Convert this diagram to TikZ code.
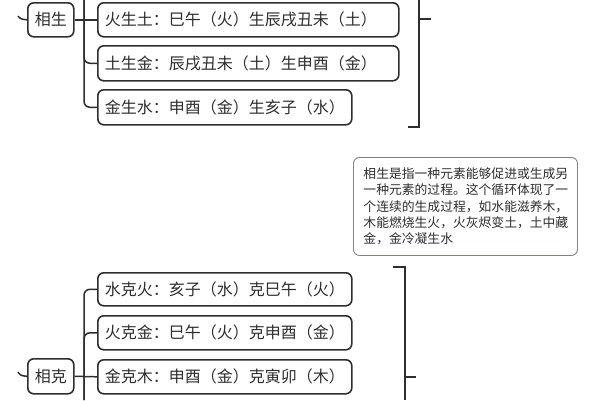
\documentclass[tikz,border=0pt]{standalone}
\usepackage{fontspec}
\newfontfamily\cjk{Noto Sans CJK SC}
\definecolor{ink}{HTML}{2E2E2E}
\definecolor{notebd}{HTML}{8A8078}
\begin{document}
\begin{tikzpicture}[x=1pt,y=-1pt,
  topic/.style={draw=ink,line width=1.6pt,rounded corners=6pt,fill=white,
    anchor=north west,inner sep=0pt,text=ink,font=\cjk\fontsize{16}{18}\selectfont,
    minimum height=34pt},
  conn/.style={draw=ink,line width=1.5pt,rounded corners=6pt},
  note/.style={draw=notebd,line width=0.9pt,rounded corners=6pt,anchor=north west,
    inner sep=0pt,text=ink,align=left,font=\cjk\fontsize{12.8}{16.2}\selectfont,
    minimum width=224pt,minimum height=98pt,text width=224pt}]
\useasboundingbox (0,0) rectangle (600,400);
\fill[white] (0,0) rectangle (600,400);

% upper group
\node[topic,minimum width=46pt] (xs) at (27,2) {\hfill 相生\hfill\null};
\node[topic,minimum width=301pt,text width=301pt,align=left] (b1) at (97,2) {\hspace{7pt}火生土：巳午（火）生辰戌丑未（土）};
\node[topic,minimum width=301pt,text width=301pt,align=left,minimum height=35pt] (b2) at (97,45) {\hspace{7pt}土生金：辰戌丑未（土）生申酉（金）};
\node[topic,minimum width=254pt,text width=254pt,align=left,minimum height=35pt] (b3) at (97,89) {\hspace{7pt}金生水：申酉（金）生亥子（水）};

\coordinate (xsL) at (18,16);
\coordinate (topS) at (84,0);
\draw[conn,rounded corners=3pt] (xs.west) -- (20,19) -- (xsL);
\draw[conn] (xs.east) -- (b1.west);
\draw[conn] (topS) |- (b3.west);
\draw[conn] (topS) |- (b2.west);

\coordinate (brT) at (419,0);
\coordinate (brB) at (408,127);
\coordinate (brTick) at (431,19);
\draw[conn,rounded corners=0pt] (brT) |- (brB);
\draw[conn] (419,19) -- (brTick);

% note
\node[note] (nt) at (353,157) {\hspace*{10pt}\parbox[c]{212pt}{相生是指一种元素能够促进或生成另\\一种元素的过程。这个循环体现了一\\个连续的生成过程，如水能滋养木，\\木能燃烧生火，火灰烬变土，土中藏\\金，金冷凝生水}};

% lower group
\node[topic,minimum width=254pt,text width=254pt,align=left,minimum height=33pt] (c1) at (97,272) {\hspace{7pt}水克火：亥子（水）克巳午（火）};
\node[topic,minimum width=254pt,text width=254pt,align=left] (c2) at (97,315) {\hspace{7pt}火克金：巳午（火）克申酉（金）};
\node[topic,minimum width=254pt,text width=254pt,align=left] (c3) at (97,359) {\hspace{7pt}金克木：申酉（金）克寅卯（木）};
\node[topic,minimum width=46pt,minimum height=35pt] (xk) at (27,358) {\hfill 相克\hfill\null};

\coordinate (xkL) at (18,372);
\coordinate (botS) at (84,400);
\draw[conn,rounded corners=3pt] (xk.west) -- (20,375.5) -- (xkL);
\draw[conn] (xk.east) -- (c3.west);
\draw[conn] (botS) |- (c1.west);
\draw[conn] (botS) |- (c2.west);

\coordinate (br2T) at (393,267);
\coordinate (br2B) at (405,400);
\draw[conn,rounded corners=0pt] (br2T) -| (br2B);
\draw[conn] (405,377) -- (416,377);
\end{tikzpicture}
\end{document}
